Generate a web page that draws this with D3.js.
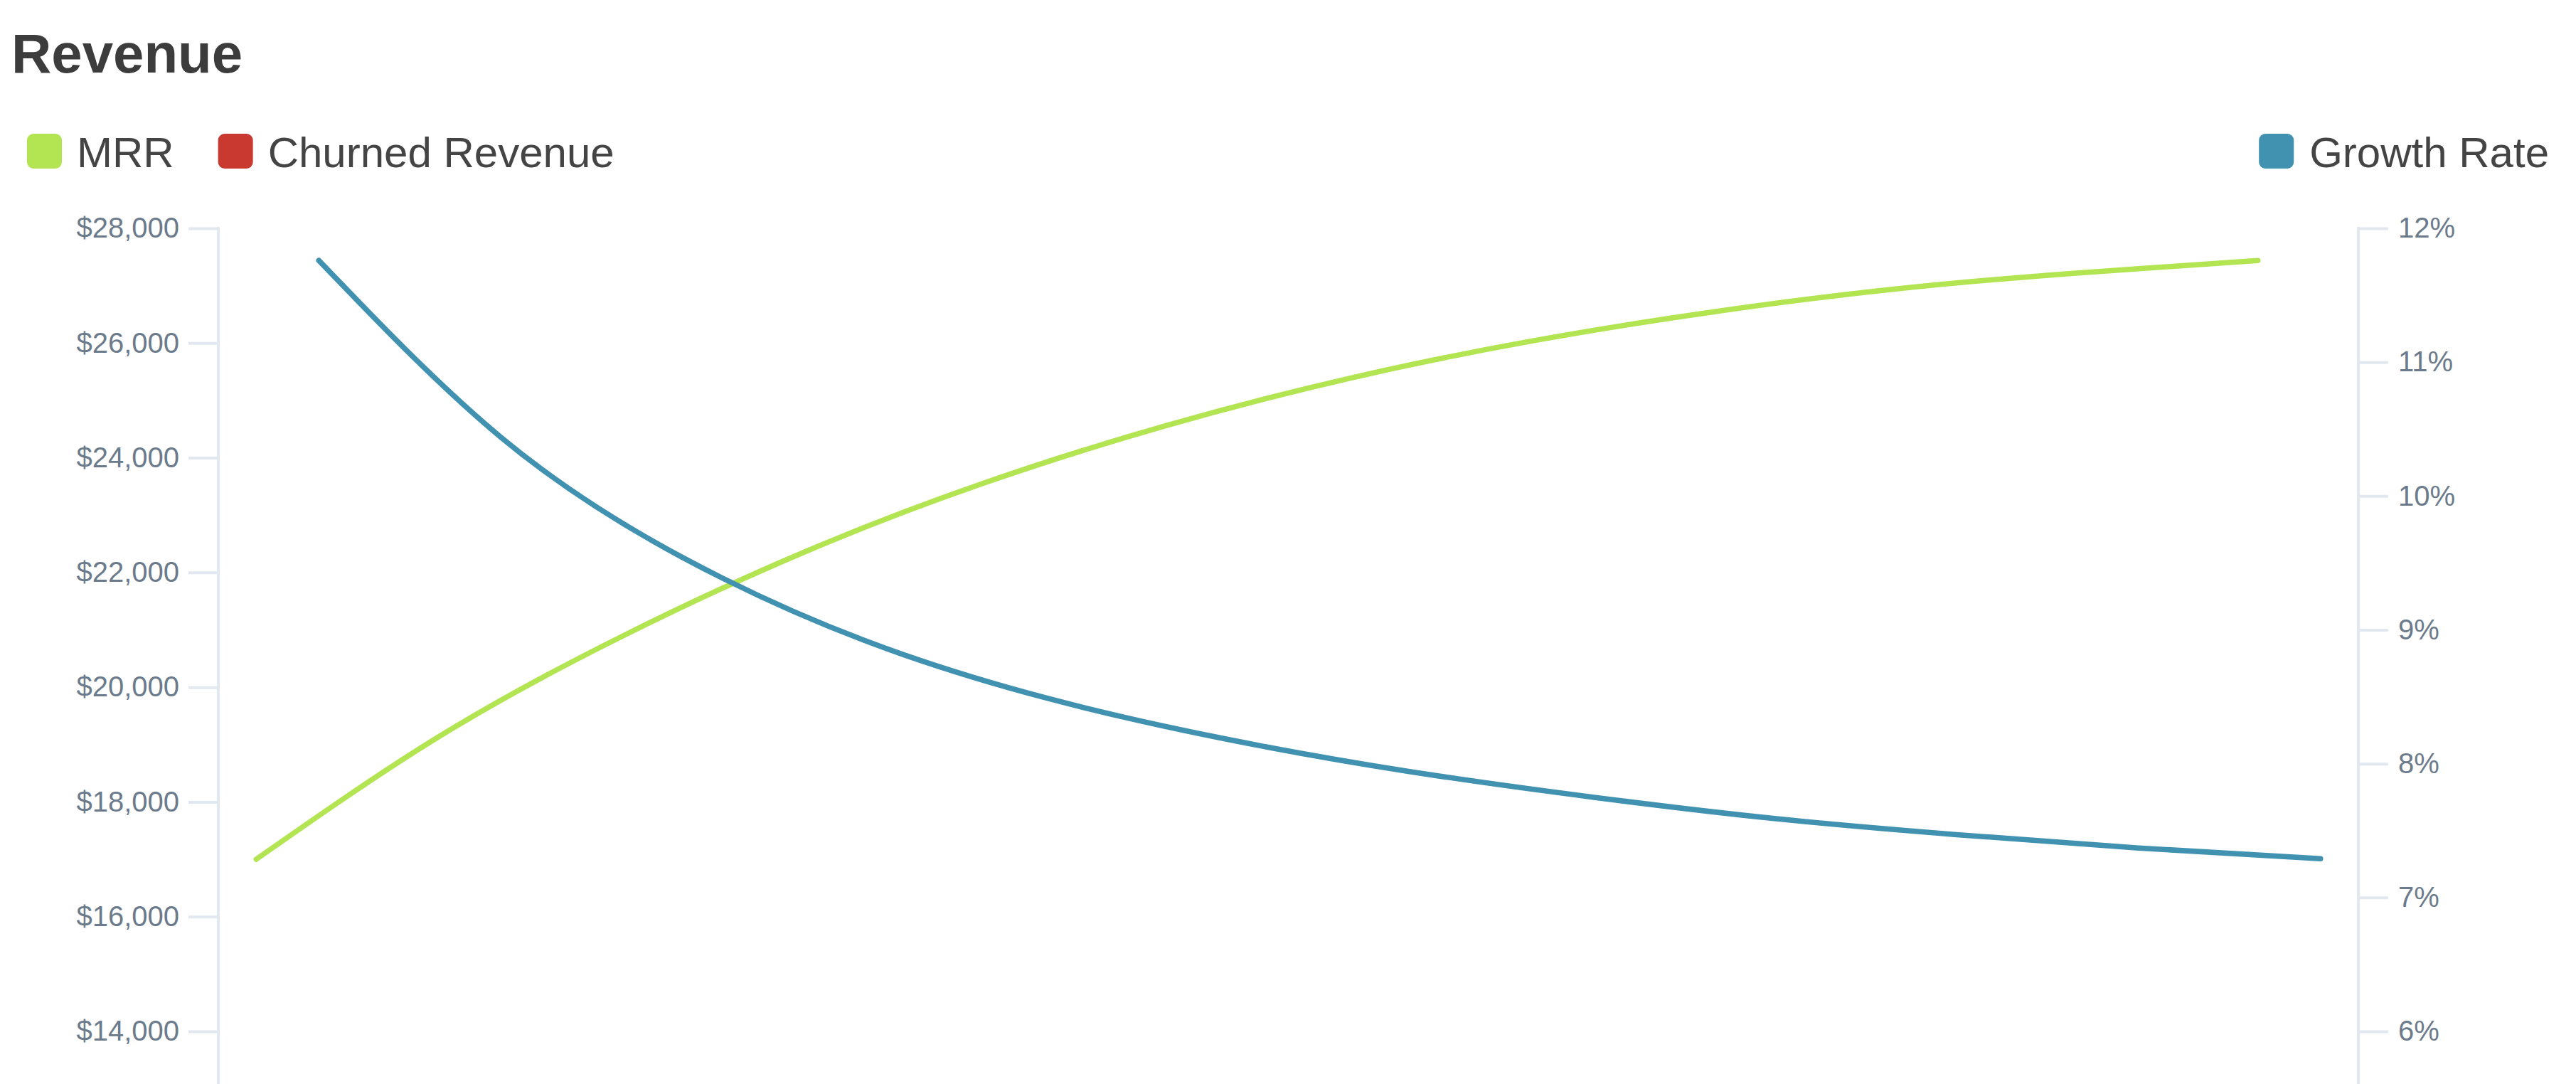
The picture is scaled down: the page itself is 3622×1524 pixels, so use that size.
<!DOCTYPE html>
<html>
<head>
<meta charset="utf-8">
<script src="https://cdn.jsdelivr.net/npm/d3@7"></script>
<style>
    html, body { margin: 0; padding: 0; background: #fff; overflow: hidden; }
    svg { display: block; font-family: "Liberation Sans", Arial, Helvetica, sans-serif; }
</style>
</head>
<body>
<div id="chart"></div>
<script>
// Datos
const months = ['Jan', 'Feb', 'Mar', 'Apr', 'May', 'Jun', 'Jul', 'Aug', 'Sep', 'Oct', 'Nov', 'Dec'];
const mrr = [17000, 19130, 20870, 22340, 23560, 24560, 25380, 26030, 26540, 26940, 27220, 27440];
const growthRate = [11.76, 10.44, 9.54, 8.92, 8.49, 8.18, 7.94, 7.75, 7.59, 7.47, 7.37, 7.29];
const seriesKeys = ['MRR', 'Churned Revenue', 'Growth Rate'];
const seriesColors = ['#b3e553', '#c9392f', '#4191b1'];
const leftTicks = [14000, 16000, 18000, 20000, 22000, 24000, 26000, 28000];
const rightTicks = [6, 7, 8, 9, 10, 11, 12];

const width = 3622;
const height = 1524;
const margin = { left: 307, right: 306, top: 321 };
const plotBottom = 1450; // donde caen $14,000 y 6%

const svg = d3.select('#chart')
    .append('svg')
    .attr('width', width)
    .attr('height', height);

// Título
svg.append('text')
    .attr('x', 16)
    .attr('y', 102)
    .attr('font-size', 78)
    .attr('font-weight', 'bold')
    .attr('fill', '#3c3c3c')
    .text('Revenue');

// Leyenda
const color = d3.scaleOrdinal().domain(seriesKeys).range(seriesColors);
const legend = svg.append('g');
let lx = 38;
['MRR', 'Churned Revenue'].forEach(k => {
    legend.append('rect')
        .attr('x', lx).attr('y', 188)
        .attr('width', 49).attr('height', 49)
        .attr('rx', 9)
        .attr('fill', color(k));
    const t = legend.append('text')
        .attr('x', lx + 70).attr('y', 235)
        .attr('font-size', 60)
        .attr('fill', '#444')
        .text(k);
    lx += 70 + t.node().getComputedTextLength() + 62;
});
const grText = legend.append('text')
    .attr('x', 3584).attr('y', 235)
    .attr('text-anchor', 'end')
    .attr('font-size', 60)
    .attr('fill', '#444')
    .text('Growth Rate');
const grLen = grText.node().getComputedTextLength();
legend.append('rect')
    .attr('x', 3584 - grLen - 22 - 49).attr('y', 188)
    .attr('width', 49).attr('height', 49)
    .attr('rx', 9)
    .attr('fill', color('Growth Rate'));

// Escalas
const x = d3.scalePoint()
    .domain(months)
    .range([margin.left, width - margin.right])
    .padding(0.38);
const offset = d3.scaleBand()
    .domain(seriesKeys)
    .range([-66, 66]);
const yLeft = d3.scaleLinear().domain([14000, 28000]).range([plotBottom, margin.top]);
const yRight = d3.scaleLinear().domain([6, 12]).range([plotBottom, margin.top]);

// Ejes
const axisColor = '#e2e8f0';
const labelColor = '#6b7b8b';

const gLeft = svg.append('g')
    .attr('transform', `translate(${margin.left},0)`)
    .call(d3.axisLeft(yLeft)
        .tickValues(leftTicks)
        .tickSize(42)
        .tickPadding(13)
        .tickFormat(d3.format('$,')));
const gRight = svg.append('g')
    .attr('transform', `translate(${width - margin.right},0)`)
    .call(d3.axisRight(yRight)
        .tickValues(rightTicks)
        .tickSize(42)
        .tickPadding(14)
        .tickFormat(d => d + '%'));

[gLeft, gRight].forEach(g => {
    g.select('.domain').remove();
    g.selectAll('.tick line').attr('stroke', axisColor).attr('stroke-width', 4);
    g.selectAll('.tick text')
        .attr('fill', labelColor)
        .attr('font-size', 40)
        .attr('font-family', '"Liberation Sans", Arial, sans-serif');
    g.append('line')
        .attr('x1', 0).attr('x2', 0)
        .attr('y1', margin.top - 2).attr('y2', height)
        .attr('stroke', axisColor)
        .attr('stroke-width', 4);
});

// Líneas
const lineMrr = d3.line()
    .x((d, i) => x(months[i]) + offset.bandwidth() / 2 + offset('MRR'))
    .y(d => yLeft(d))
    .curve(d3.curveNatural);
const lineGrowth = d3.line()
    .x((d, i) => x(months[i]) + offset.bandwidth() / 2 + offset('Growth Rate'))
    .y(d => yRight(d))
    .curve(d3.curveNatural);

svg.append('path')
    .datum(mrr)
    .attr('d', lineMrr)
    .attr('fill', 'none')
    .attr('stroke', color('MRR'))
    .attr('stroke-width', 7.5)
    .attr('stroke-linecap', 'round');

svg.append('path')
    .datum(growthRate)
    .attr('d', lineGrowth)
    .attr('fill', 'none')
    .attr('stroke', color('Growth Rate'))
    .attr('stroke-width', 7.5)
    .attr('stroke-linecap', 'round');
</script>
</body>
</html>
